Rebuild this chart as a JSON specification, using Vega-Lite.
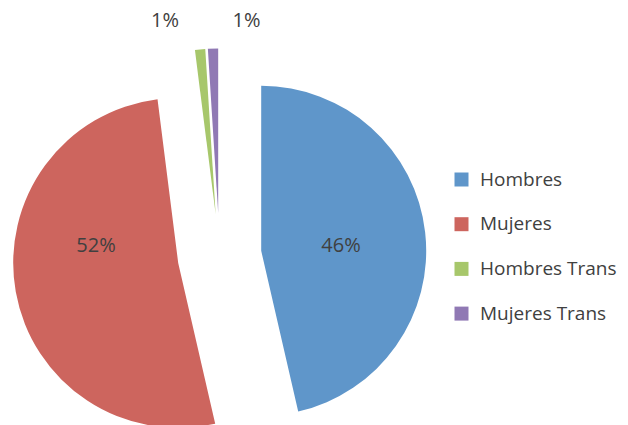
{
  "$schema": "https://vega.github.io/schema/vega-lite/v6.json",
  "width": 439,
  "height": 425,
  "padding": 0,
  "background": "white",
  "config": {"view": {"stroke": null}, "font": "Open Sans"},
  "data": {"values": [
    {"cat": "Hombres", "value": 46.4, "label": "46%", "k": 1},
    {"cat": "Mujeres", "value": 51.6, "label": "52%", "k": 2},
    {"cat": "Hombres Trans", "value": 1.0, "label": "1%", "k": 3},
    {"cat": "Mujeres Trans", "value": 1.0, "label": "1%", "k": 4}
  ]},
  "encoding": {
    "theta": {"field": "value", "type": "quantitative", "stack": true},
    "order": {"field": "k", "type": "quantitative"},
    "color": {
      "field": "cat", "type": "nominal",
      "scale": {"domain": ["Hombres", "Mujeres", "Hombres Trans", "Mujeres Trans"],
                "range": ["#5F96CA", "#CD655E", "#A7C76B", "#9079B4"]},
      "legend": {"title": null, "orient": "none", "legendX": 452, "legendY": 170,
                 "symbolType": "square", "symbolSize": 196, "symbolStrokeWidth": 0,
                 "labelFontSize": 19, "labelFont": "Open Sans", "labelColor": "#404040",
                 "labelOffset": 9, "rowPadding": 24.7}
    }
  },
  "layer": [
    {"mark": {"type": "arc", "outerRadius": 165, "xOffset": 41.7, "yOffset": 38.3},
     "encoding": {"opacity": {"condition": {"test": "datum.cat === 'Hombres'", "value": 1}, "value": 0}}},
    {"mark": {"type": "arc", "outerRadius": 165, "xOffset": -41.3, "yOffset": 50.4},
     "encoding": {"opacity": {"condition": {"test": "datum.cat === 'Mujeres'", "value": 1}, "value": 0}}},
    {"mark": {"type": "arc", "outerRadius": 165, "xOffset": -3.9, "yOffset": 1.2},
     "encoding": {"opacity": {"condition": {"test": "datum.cat === 'Hombres Trans'", "value": 1}, "value": 0}}},
    {"mark": {"type": "arc", "outerRadius": 165, "xOffset": -1.3, "yOffset": 1.0},
     "encoding": {"opacity": {"condition": {"test": "datum.cat === 'Mujeres Trans'", "value": 1}, "value": 0}}},
    {"mark": {"type": "text", "radius": 80, "xOffset": 42, "yOffset": 42.5, "fontSize": 20, "font": "Open Sans", "baseline": "middle", "align": "center"},
     "encoding": {"text": {"field": "label"}, "color": {"value": "#404040"}, "opacity": {"condition": {"test": "datum.cat === 'Hombres'", "value": 1}, "value": 0}}},
    {"mark": {"type": "text", "radius": 80, "xOffset": -44.7, "yOffset": 19.5, "fontSize": 20, "font": "Open Sans", "baseline": "middle", "align": "center"},
     "encoding": {"text": {"field": "label"}, "color": {"value": "#404040"}, "opacity": {"condition": {"test": "datum.cat === 'Mujeres'", "value": 1}, "value": 0}}},
    {"mark": {"type": "text", "radius": 80, "xOffset": -47, "yOffset": -111.8, "fontSize": 20, "font": "Open Sans", "baseline": "middle", "align": "center"},
     "encoding": {"text": {"field": "label"}, "color": {"value": "#404040"}, "opacity": {"condition": {"test": "datum.cat === 'Hombres Trans'", "value": 1}, "value": 0}}},
    {"mark": {"type": "text", "radius": 80, "xOffset": 29.5, "yOffset": -111.5, "fontSize": 20, "font": "Open Sans", "baseline": "middle", "align": "center"},
     "encoding": {"text": {"field": "label"}, "color": {"value": "#404040"}, "opacity": {"condition": {"test": "datum.cat === 'Mujeres Trans'", "value": 1}, "value": 0}}}
  ]
}
